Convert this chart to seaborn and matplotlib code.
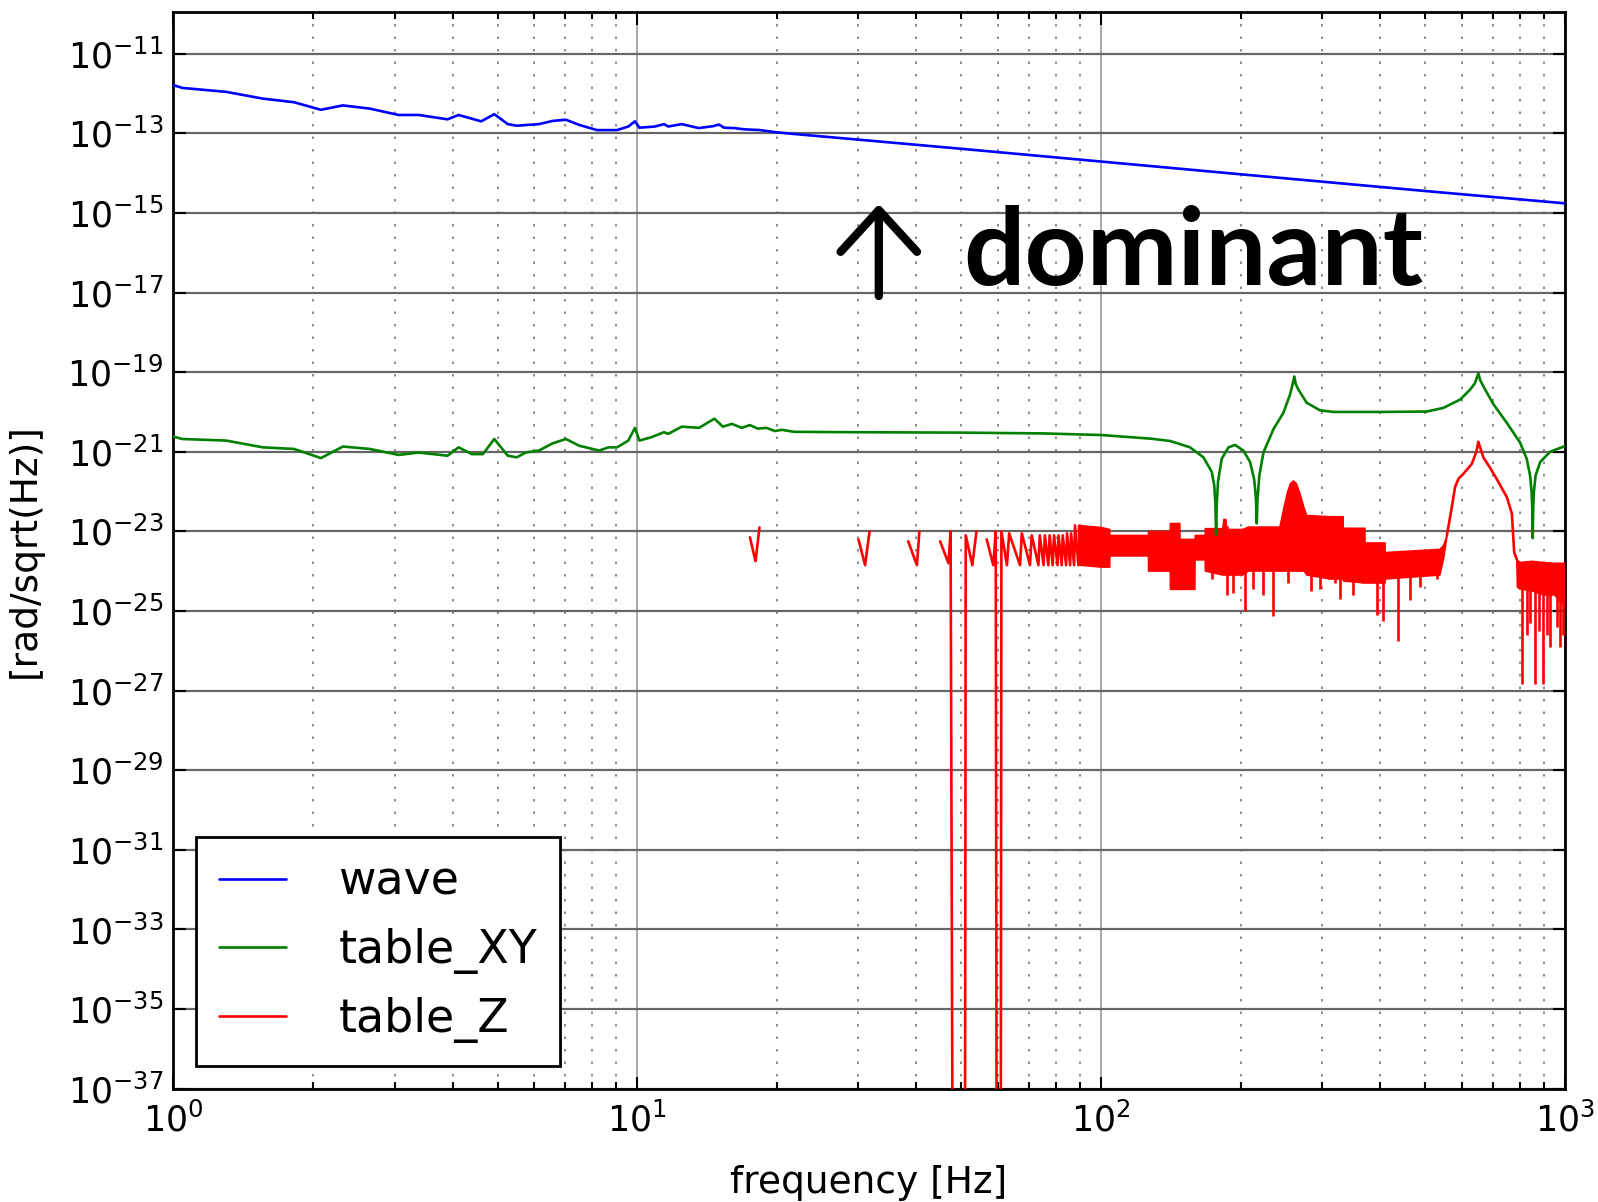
import numpy as np
import pandas as pd
import matplotlib
matplotlib.use("Agg")
import matplotlib.pyplot as plt
from matplotlib.lines import Line2D
from matplotlib.ticker import FixedLocator, NullLocator, LogLocator, LogFormatterSciNotation
import seaborn as sns

nan = np.nan

# amplitudes are stored as log10 values
wave_freq = [1.0, 1.045, 1.30, 1.56, 1.82, 2.08, 2.32, 2.65, 3.06, 3.38,
             3.90, 4.12, 4.61, 4.92, 5.26, 5.50, 6.14, 6.57, 7.02, 7.50,
             8.19, 9.05, 9.57, 9.89, 10.11, 10.93, 11.42, 11.67, 12.48, 13.57,
             14.6, 15.0, 15.4, 16.2, 17.0, 18.4, 19.8, 21.9, 30, 50,
             100, 200, 500, 1000]
wave_exp = [-11.79, -11.86, -11.96, -12.13, -12.22, -12.41, -12.30, -12.38, -12.54, -12.54,
            -12.65, -12.54, -12.70, -12.52, -12.77, -12.81, -12.77, -12.69, -12.66, -12.79,
            -12.92, -12.92, -12.83, -12.70, -12.86, -12.83, -12.77, -12.83, -12.77, -12.87,
            -12.82, -12.78, -12.86, -12.87, -12.90, -12.92, -12.97, -13.02, -13.16, -13.39,
            -13.71, -14.03, -14.45, -14.76]

xy_freq = [1.0, 1.045, 1.30, 1.56, 1.82, 2.08, 2.32, 2.65, 3.06, 3.38,
           3.90, 4.12, 4.40, 4.65, 4.92, 5.26, 5.50, 5.75, 6.14, 6.57,
           7.02, 7.50, 8.28, 8.67, 9.05, 9.57, 9.89, 10.11, 10.7, 11.42,
           11.67, 12.48, 13.6, 14.67, 15.3, 16.0, 16.8, 17.5, 18.2, 19.0,
           19.8, 20.5, 21.8, 30, 50, 75, 100, 127.6, 141, 155.6,
           166.3, 173.4, 175.5, 176.5, 177.1, 177.7, 178.8, 182.1, 188.3, 194.6,
           202.8, 209.7, 214.0, 215.9, 216.7, 217.5, 219.5, 224, 235.5, 247.4,
           255.7, 259.0, 261.2, 263.0, 266.5, 277.7, 296.8, 317.1, 406, 504,
           547, 594.8, 625, 640, 651.3, 657, 667.7, 702, 749.6, 801,
           828, 842, 848, 851, 853, 855, 858, 865, 885, 930, 1000]
xy_exp = [-20.62, -20.68, -20.72, -20.89, -20.93, -21.16, -20.87, -20.93, -21.08, -21.02,
          -21.10, -20.89, -21.06, -21.06, -20.68, -21.10, -21.14, -21.02, -20.97, -20.79,
          -20.68, -20.85, -20.97, -20.89, -20.89, -20.72, -20.40, -20.72, -20.64, -20.51,
          -20.55, -20.37, -20.40, -20.17, -20.37, -20.30, -20.40, -20.33, -20.42, -20.40,
          -20.48, -20.45, -20.50, -20.51, -20.52, -20.54, -20.58, -20.67, -20.73, -20.89,
          -21.14, -21.51, -21.85, -22.3, -23.09, -22.3, -21.75, -21.18, -20.89, -20.83,
          -20.97, -21.26, -21.7, -22.2, -22.8, -22.2, -21.6, -21.02, -20.43, -20.02,
          -19.56, -19.3, -19.11, -19.3, -19.44, -19.77, -19.96, -20.0, -20.0, -19.99,
          -19.9, -19.69, -19.44, -19.28, -19.03, -19.2, -19.36, -19.81, -20.27, -20.77,
          -21.18, -21.6, -22.0, -22.4, -23.17, -22.4, -22.0, -21.6, -21.26, -21.0, -20.86]

# table_Z: sparse line pieces (nan = no data), -40 = far below the axis
z_line_freq = [17.5, 18.0, 18.35, nan,
               30.0, 31.0, 31.7, nan,
               38.4, 40.1, 40.6, nan,
               45.0, 46.9, 47.4, 47.9, 50.9, 51.1, 52.8, 53.9, nan,
               56.7, 58.6, 59.3, 59.6, 60.8, 61.0, 62.7, 63.4, 66.9, 67.5,
               70.3, 70.9, 73.3, 73.8, 75.2, 75.7, 77.0, 77.5, 78.7, 79.2,
               80.6, 81.0, 82.3, 82.7, 84.1, 84.5, 85.8, 86.2, 87.5, 87.9, 89.4, nan,
               557, 571, 580, 590, 604, 630, 645, 651, 668, 690, 713, 750, 769, 778, 788]
z_line_exp = [-23.15, -23.75, -22.9, nan,
              -23.2, -23.85, -23.0, nan,
              -23.25, -23.85, -23.0, nan,
              -23.25, -23.8, -23.0, -40, -40, -23.1, -23.85, -23.0, nan,
              -23.2, -23.85, -23.0, -40, -40, -23.0, -23.85, -23.05, -23.85, -23.05,
              -23.85, -23.1, -23.85, -23.1, -23.85, -23.1, -23.85, -23.1, -23.85, -23.1,
              -23.85, -23.1, -23.85, -23.1, -23.85, -23.05, -23.85, -23.05, -23.85, -22.85, -23.85, nan,
              -23.1, -22.38, -21.89, -21.68, -21.56, -21.31, -21.0, -20.75, -21.15, -21.4,
              -21.68, -22.14, -22.55, -23.53, -23.7]

# table_Z: dense noisy band (upper / lower envelope)
z_band_freq = [89.4, 100, 104.5, 104.6, 126.5, 126.6, 141.0, 141.1, 148.0, 148.1,
               159.5, 159.6, 167.7, 167.8, 183, 184, 186, 187, 202, 208,
               243, 248, 252, 256, 260, 264, 268.7, 274, 277.8, 312,
               333, 333.1, 371, 371.1, 410, 410.1, 538, 548, 557, nan,
               788, 790, 800, 850, 900, 950, 1000]
z_band_top = [-22.85, -22.9, -22.95, -23.1, -23.1, -23.0, -23.0, -22.8, -22.8, -23.2,
              -23.2, -23.1, -23.1, -22.93, -22.93, -22.7, -22.7, -22.95, -22.95, -22.89,
              -22.89, -22.4, -22.05, -21.8, -21.73, -21.8, -22.05, -22.4, -22.6, -22.63,
              -22.63, -22.92, -22.92, -23.29, -23.29, -23.53, -23.45, -23.35, -23.1, nan,
              -23.7, -23.72, -23.78, -23.75, -23.78, -23.8, -23.8]
z_band_bottom = [-23.85, -23.9, -23.9, -23.62, -23.62, -24.0, -24.0, -24.46, -24.46, -24.46,
                 -24.46, -23.72, -23.72, -24.0, -24.1, -24.1, -24.1, -24.1, -24.1, -24.0,
                 -24.0, -24.0, -24.0, -24.0, -24.0, -24.0, -24.0, -24.0, -24.1, -24.2,
                 -24.2, -24.25, -24.3, -24.3, -24.3, -24.2, -24.1, -23.7, -23.15, nan,
                 -23.8, -24.4, -24.45, -24.5, -24.6, -24.6, -24.9]

# table_Z: narrow downward spikes below the band
z_spike_freq = [173.5, 186.7, 193, 204.5, 213, 223.5, 235, 253.6, 284, 297,
                310, 320, 327, 350, 366, 393, 405, 438, 463, 487,
                530, 808, 828, 840, 863, 880, 899, 916, 929, 960, 977, 990]
z_spike_exp = [-24.2, -24.6, -24.55, -25.0, -24.46, -24.6, -25.13, -24.3, -24.5, -24.46,
               -24.2, -24.3, -24.7, -24.6, -24.3, -25.1, -25.26, -25.76, -24.73, -24.4,
               -24.2, -26.83, -25.6, -25.3, -26.83, -25.5, -26.83, -25.6, -25.9, -25.4, -25.9, -25.6]

series_names = ["wave", "table_XY", "table_Z"]
series_colors = ["#0000ff", "#008000", "#ff0000"]

sns.set_style("ticks")
plt.rcParams["font.family"] = ["DejaVu Sans"]
plt.rcParams["mathtext.fontset"] = "dejavusans"
plt.rcParams["axes.unicode_minus"] = False
plt.rcParams["text.color"] = "black"
plt.rcParams["axes.labelcolor"] = "black"

fig = plt.figure(figsize=(15.98, 12.02), dpi=100)
ax = fig.add_axes([0.1085, 0.0943, 0.8707, 0.8955])

lw = 1.9

# red pieces first, green drawn on top of it
zl = pd.DataFrame({"freq": z_line_freq, "exp": z_line_exp})
zl["seg"] = zl["exp"].isna().cumsum()
zl = zl.dropna()
zl["amp"] = np.power(10.0, zl["exp"])
sns.lineplot(data=zl, x="freq", y="amp", units="seg", estimator=None, sort=False,
             color=series_colors[2], lw=lw, ax=ax, zorder=3)

band_f = np.array(z_band_freq)
band_t = np.array(z_band_top)
band_b = np.array(z_band_bottom)
ax.fill_between(band_f, np.power(10.0, band_t), np.power(10.0, band_b),
                color=series_colors[2], lw=1.0, zorder=3)

ok = ~np.isnan(band_f)
spike_top = np.interp(np.log10(z_spike_freq), np.log10(band_f[ok]), band_t[ok])
ax.vlines(z_spike_freq, np.power(10.0, spike_top), np.power(10.0, z_spike_exp),
          color=series_colors[2], lw=lw, zorder=3)

wave = pd.DataFrame({"freq": wave_freq, "amp": np.power(10.0, wave_exp)})
sns.lineplot(data=wave, x="freq", y="amp", estimator=None, sort=False,
             color=series_colors[0], lw=lw, ax=ax, zorder=4)

xy = pd.DataFrame({"freq": xy_freq, "amp": np.power(10.0, xy_exp)})
sns.lineplot(data=xy, x="freq", y="amp", estimator=None, sort=False,
             color=series_colors[1], lw=lw, ax=ax, zorder=4)

ax.set_xscale("log")
ax.set_yscale("log")
ax.set_xlim(1, 1000)
ax.set_ylim(1e-37, 10 ** -9.96)

ax.yaxis.set_major_locator(FixedLocator([10.0 ** e for e in range(-37, -10, 2)]))
ax.yaxis.set_minor_locator(NullLocator())
ax.yaxis.set_major_formatter(LogFormatterSciNotation())
ax.xaxis.set_major_locator(LogLocator(base=10))
ax.xaxis.set_minor_locator(LogLocator(base=10, subs=range(2, 10)))

ax.grid(True, which="major", axis="y", color="#666666", lw=1.6, ls="-", zorder=0)
ax.grid(True, which="major", axis="x", color="#999999", lw=1.2, ls="-", zorder=0)
ax.grid(True, which="minor", axis="x", color="#777777", lw=1.2, ls=(0, (1.5, 6)), zorder=0)
ax.set_axisbelow(True)

ax.tick_params(which="both", direction="in", top=True, right=True,
               labelsize=25, width=1.5, colors="black")
ax.tick_params(axis="y", pad=7)
ax.tick_params(axis="x", pad=10)
ax.tick_params(which="major", length=9)
ax.tick_params(which="minor", length=5)
for sp in ax.spines.values():
    sp.set_linewidth(2)
    sp.set_color("black")

ax.set_xlabel("frequency [Hz]", fontsize=27, labelpad=19)
ax.set_ylabel("[rad/sqrt(Hz)]", fontsize=27, labelpad=18)

handles = [Line2D([], [], color=c, lw=lw) for c in series_colors]
leg = ax.legend(handles, series_names, loc="lower left", fontsize=33,
                frameon=True, fancybox=False, edgecolor="black", framealpha=1,
                borderpad=0.5, handlelength=1.45, handletextpad=1.15,
                labelspacing=0.5, borderaxespad=0.5)
leg.get_frame().set_linewidth(2)
for t in leg.get_texts():
    t.set_color("black")

# annotation
ax.annotate("", xy=(0.507, 0.8219), xytext=(0.507, 0.7364),
            xycoords="axes fraction", textcoords="axes fraction",
            arrowprops=dict(arrowstyle="->, head_length=0.6, head_width=0.55",
                            lw=6, color="black", mutation_scale=50,
                            shrinkA=0, shrinkB=0, capstyle="round", joinstyle="round"),
            zorder=5)
ax.text(0.5675, 0.7465, "dominant", transform=ax.transAxes, fontsize=78,
        fontweight="bold", color="black", family=["Lato", "DejaVu Sans"],
        ha="left", va="baseline", zorder=5)

fig.savefig("out.png", dpi=100, facecolor="white")
